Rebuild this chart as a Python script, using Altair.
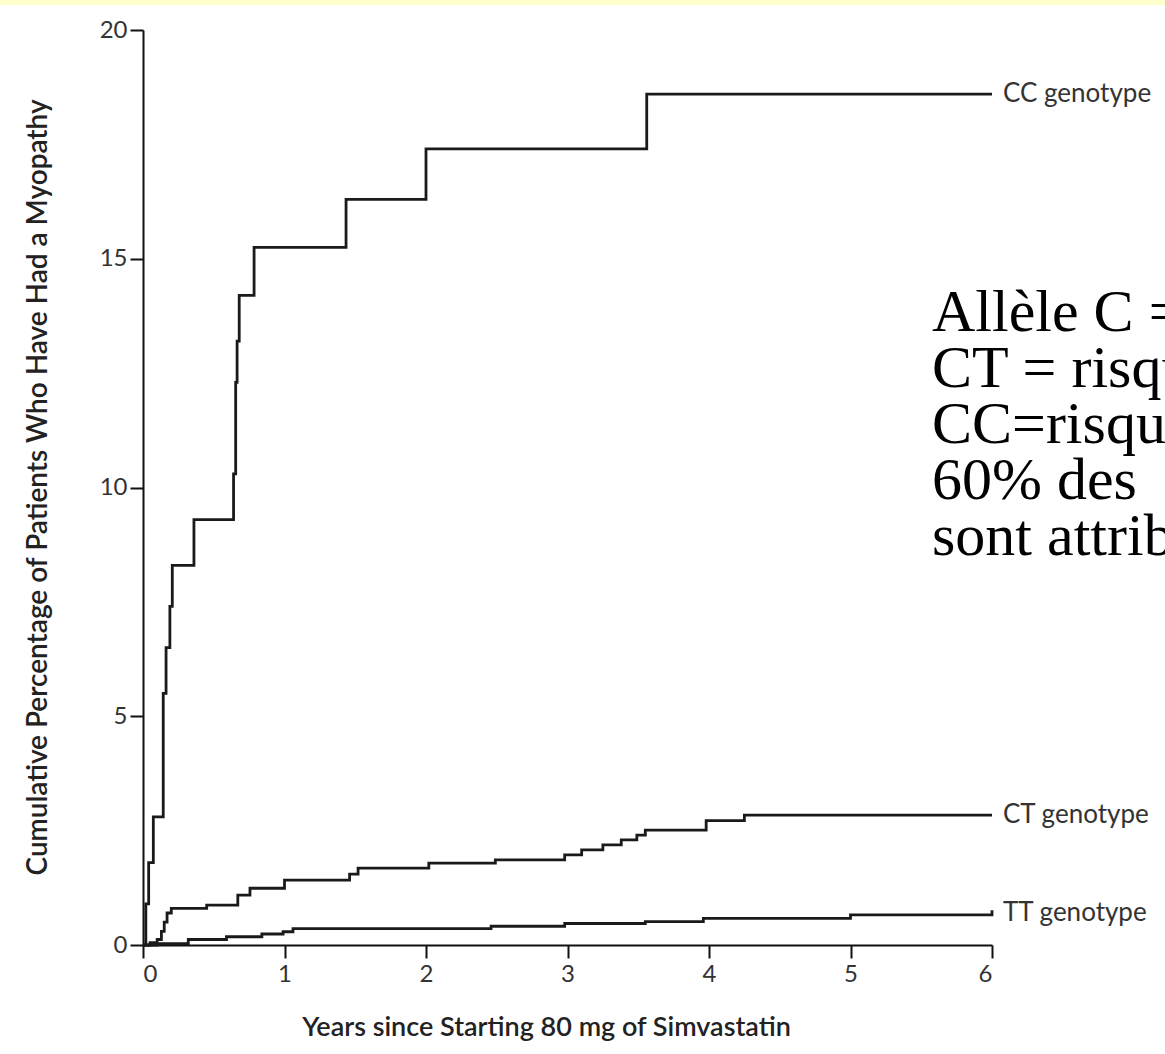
import altair as alt
import pandas as pd

# ---- data ----
cc_x = [0, 0.02, 0.04, 0.073, 0.143, 0.163, 0.19, 0.207, 0.36, 0.64, 0.655, 0.665, 0.68, 0.785, 1.435, 2.0, 3.56, 6.0]
cc_y = [0, 0.9, 1.8, 2.8, 5.5, 6.5, 7.4, 8.3, 9.3, 10.3, 12.3, 13.2, 14.2, 15.25, 16.3, 17.4, 18.6, 18.6]

ct_x = [0, 0.05, 0.1, 0.13, 0.15, 0.17, 0.2, 0.45, 0.67, 0.756, 1.0, 1.46, 1.52, 2.02, 2.49, 2.98, 3.1, 3.25, 3.38, 3.49, 3.55, 3.98, 4.25, 6.0]
ct_y = [0, 0.05, 0.12, 0.3, 0.5, 0.7, 0.8, 0.87, 1.09, 1.24, 1.42, 1.55, 1.68, 1.79, 1.86, 1.97, 2.08, 2.19, 2.3, 2.4, 2.51, 2.72, 2.84, 2.84]

tt_x = [0, 0.1, 0.32, 0.59, 0.84, 0.99, 1.06, 2.46, 2.98, 3.55, 3.96, 5.0, 6.0, 6.0]
tt_y = [0, 0.03, 0.12, 0.18, 0.24, 0.29, 0.36, 0.41, 0.47, 0.51, 0.58, 0.66, 0.66, 0.76]

label_x = [6, 6, 6]
label_y = [18.6, 2.84, 0.7]
label_text = ["CC genotype", "CT genotype", "TT genotype"]

x_ticks = [0, 1, 2, 3, 4, 5, 6]
y_ticks = [0, 5, 10, 15, 20]

note_x = [5.576]
note_y = [13.42]
note_lines = [
    "Allèle C = facteur de risque",
    "CT = risque x 4,5",
    "CC=risque x 17",
    "60% des\u00a0\u00a0myopathies",
    "sont attribuables à l'allèle C",
]

rows = []
for name, xs, ys in [("CC", cc_x, cc_y), ("CT", ct_x, ct_y), ("TT", tt_x, tt_y)]:
    for i, (a, b) in enumerate(zip(xs, ys)):
        rows.append({"genotype": name, "years": a, "pct": b, "idx": i})
df = pd.DataFrame(rows)
labels_df = pd.DataFrame({"years": label_x, "pct": label_y, "label": label_text})
note_df = pd.DataFrame({"years": note_x, "pct": note_y, "text": [note_lines]})

W, H = 849, 915
FONT = "Lato"

xscale = alt.Scale(domain=[0, 6], nice=False, zero=False)
yscale = alt.Scale(domain=[0, 20], nice=False)

xaxis = alt.Axis(
    values=x_ticks, format="d", title="Years since Starting 80 mg of Simvastatin",
    grid=False, domainColor="#111", domainWidth=2, tickColor="#111", tickWidth=2,
    tickSize=13, labelFontSize=24, labelColor="#333", labelFont=FONT, labelPadding=4,
    titleFont=FONT, titleFontSize=27, titleFontWeight=600, titleColor="#222",
    titleX=403, titleY=82, titleBaseline="middle", titleAnchor="middle",
)
yaxis = alt.Axis(
    values=y_ticks, format="d", title="Cumulative Percentage of Patients Who Have Had a Myopathy",
    grid=False, domainColor="#111", domainWidth=2, tickColor="#111", tickWidth=2,
    tickSize=13, labelFontSize=24, labelColor="#333", labelFont=FONT, labelPadding=3,
    titleFont=FONT, titleFontSize=28, titleFontWeight=600, titleColor="#222",
    titleX=-105, titleY=457, titleBaseline="middle", titleAngle=-90,
)

strip = alt.Chart(pd.DataFrame({"a": [0]})).mark_rect(color="#ffffcc").encode(
    x=alt.value(-143), x2=alt.value(1022), y=alt.value(-30), y2=alt.value(-25)
)

lines = alt.Chart(df).mark_line(interpolate="step-after", strokeWidth=2.8, color="#1a1a1a").encode(
    x=alt.X("years:Q", scale=xscale, axis=xaxis),
    y=alt.Y("pct:Q", scale=yscale, axis=yaxis),
    detail="genotype:N",
    order="idx:Q",
)

labels = alt.Chart(labels_df).mark_text(
    align="left", baseline="middle", dx=11, fontSize=26, font=FONT, color="#333"
).encode(x=alt.X("years:Q", scale=xscale), y=alt.Y("pct:Q", scale=yscale), text="label:N")

note = alt.Chart(note_df).mark_text(
    align="left", baseline="alphabetic", fontSize=60, lineHeight=56,
    font="Liberation Serif", color="#000"
).encode(x=alt.X("years:Q", scale=xscale), y=alt.Y("pct:Q", scale=yscale), text="text")

chart = alt.layer(strip, lines, labels, note).properties(
    width=W, height=H,
    autosize=alt.AutoSizeParams(type="none"),
    padding={"left": 143, "top": 30, "right": 173, "bottom": 109},
    background="white",
).configure_view(stroke=None)

chart.save("out.html", embed_options={"renderer": "svg", "actions": False})
